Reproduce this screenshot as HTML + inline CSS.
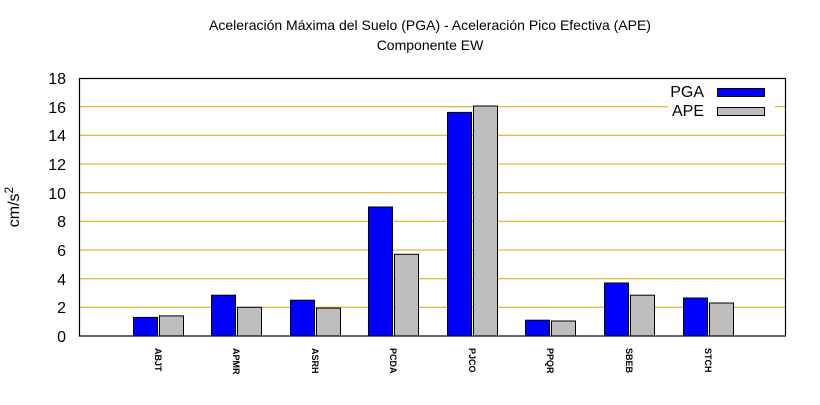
<!DOCTYPE html><html><head><style>body{margin:0;background:#fff}</style></head><body>
<svg width="820" height="400" xmlns="http://www.w3.org/2000/svg" font-family="Liberation Sans, DejaVu Sans, sans-serif">
<rect width="820" height="400" fill="#fff"/>
<text x="430" y="30" font-size="14" text-anchor="middle">Aceleración Máxima del Suelo (PGA) -  Aceleración Pico Efectiva (APE)</text>
<text x="430" y="50" font-size="14" text-anchor="middle">Componente EW</text>
<g stroke="#e0a000" stroke-width="1">
<line x1="80" x2="786" y1="307.3" y2="307.3"/><line x1="80" x2="786" y1="278.7" y2="278.7"/>
<line x1="80" x2="786" y1="250" y2="250"/><line x1="80" x2="786" y1="221.3" y2="221.3"/>
<line x1="80" x2="786" y1="192.7" y2="192.7"/><line x1="80" x2="786" y1="164" y2="164"/>
<line x1="80" x2="786" y1="135.3" y2="135.3"/><line x1="80" x2="668" y1="106.7" y2="106.7"/><line x1="775" x2="786" y1="106.7" y2="106.7"/>
</g>
<g font-size="16" text-anchor="end" fill="#000">
<text x="66" y="342">0</text><text x="66" y="313">2</text><text x="66" y="285">4</text><text x="66" y="256">6</text>
<text x="66" y="227">8</text><text x="66" y="199">10</text><text x="66" y="170">12</text><text x="66" y="141">14</text>
<text x="66" y="113">16</text><text x="66" y="84">18</text>
</g>
<text transform="translate(19,207) rotate(-90)" font-size="16" text-anchor="middle">cm/s<tspan dy="-6" font-size="12">2</tspan></text>
<g stroke="#000" stroke-width="1">
<rect x="133.5" y="317.4" width="24" height="18.6" fill="#00f"/><rect x="159.5" y="315.9" width="24" height="20.1" fill="#bebebe"/>
<rect x="211.5" y="295.2" width="24" height="40.8" fill="#00f"/><rect x="237.5" y="307.3" width="24" height="28.7" fill="#bebebe"/>
<rect x="290.5" y="300.2" width="24" height="35.8" fill="#00f"/><rect x="316.5" y="308.1" width="24" height="27.9" fill="#bebebe"/>
<rect x="368.5" y="207" width="24" height="129" fill="#00f"/><rect x="394.5" y="254.3" width="24" height="81.7" fill="#bebebe"/>
<rect x="447.5" y="112.4" width="24" height="223.6" fill="#00f"/><rect x="473.5" y="106" width="24" height="230" fill="#bebebe"/>
<rect x="525.5" y="320.2" width="24" height="15.8" fill="#00f"/><rect x="551.5" y="321" width="24" height="15" fill="#bebebe"/>
<rect x="604.5" y="283" width="24" height="53" fill="#00f"/><rect x="630.5" y="295.2" width="24" height="40.8" fill="#bebebe"/>
<rect x="683.5" y="298" width="24" height="38" fill="#00f"/><rect x="709.5" y="303" width="24" height="33" fill="#bebebe"/>
<rect x="717.5" y="88.5" width="47" height="8" fill="#00f"/><rect x="717.5" y="107.5" width="47" height="8" fill="#bebebe"/>
</g>
<rect x="79.5" y="78.5" width="706" height="257.5" fill="none" stroke="#000" stroke-width="1.2"/>
<g font-size="16" text-anchor="end"><text x="704" y="97">PGA</text><text x="704" y="116">APE</text></g>
<g font-size="9" font-weight="bold">
<text transform="translate(155,348) rotate(90)">ABJT</text><text transform="translate(233,348) rotate(90)">APMR</text>
<text transform="translate(312,348) rotate(90)">ASRH</text><text transform="translate(390,348) rotate(90)">PCDA</text>
<text transform="translate(469,348) rotate(90)">PJCO</text><text transform="translate(547,348) rotate(90)">PPQR</text>
<text transform="translate(626,348) rotate(90)">SBEB</text><text transform="translate(705,348) rotate(90)">STCH</text>
</g>
</svg></body></html>
